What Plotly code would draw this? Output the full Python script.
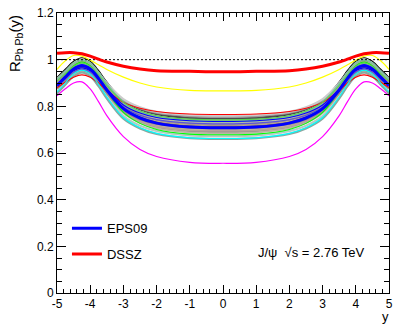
import plotly.graph_objects as go

# Rapidity grid |y| (curves are symmetric in y for Pb-Pb)
RAP = [0, 1, 2, 2.5, 3, 3.5, 3.75, 4, 4.25, 4.5, 4.75, 5]

# Central predictions
EPS09 = [0.708, 0.711, 0.728, 0.750, 0.790, 0.870, 0.920, 0.960, 0.975, 0.960, 0.925, 0.890]
DSSZ = [0.948, 0.950, 0.953, 0.960, 0.972, 0.990, 1.002, 1.015, 1.025, 1.030, 1.030, 1.027]

# EPS09 error sets (ROOT colour index -> values on RAP)
SET_COLOURS = {
    1: "#000000", 2: "#ff0000", 3: "#00ff00", 4: "#0000ff", 5: "#ffff00", 6: "#ff00ff",
    7: "#00ffff", 8: "#59d454", 9: "#5954d8", 11: "#c0b6ac", 12: "#4c4c4c", 13: "#666666",
    14: "#7f7f7f", 15: "#999999", 16: "#b2b2b2", 17: "#cccccc", 18: "#e5e5e5",
    20: "#ccc6aa", 21: "#ccc6aa", 22: "#c1bfa8", 23: "#bab5a3", 24: "#b2a596",
    25: "#b7a39b", 26: "#ad998c", 27: "#9b8e82", 28: "#876656", 29: "#afcec6",
    30: "#84c1a3", 31: "#89a8a0",
}
SET_1 = [0.745, 0.748, 0.765, 0.786, 0.826, 0.905, 0.954, 0.993, 1.008, 0.993, 0.959, 0.924]
SET_2 = [0.765, 0.767, 0.778, 0.792, 0.817, 0.868, 0.900, 0.925, 0.935, 0.925, 0.903, 0.881]
SET_3 = [0.678, 0.681, 0.701, 0.727, 0.774, 0.867, 0.926, 0.973, 0.990, 0.973, 0.932, 0.891]
SET_4 = [0.735, 0.738, 0.752, 0.771, 0.806, 0.875, 0.918, 0.952, 0.965, 0.952, 0.922, 0.892]
SET_5 = [0.866, 0.868, 0.883, 0.900, 0.925, 0.958, 0.978, 0.998, 1.015, 1.018, 0.995, 0.958]
SET_6 = [0.556, 0.560, 0.585, 0.615, 0.670, 0.760, 0.820, 0.875, 0.905, 0.900, 0.875, 0.845]
SET_7 = [0.662, 0.665, 0.684, 0.708, 0.752, 0.840, 0.895, 0.939, 0.955, 0.939, 0.900, 0.862]
SET_8 = [0.742, 0.745, 0.760, 0.780, 0.817, 0.889, 0.935, 0.971, 0.985, 0.971, 0.940, 0.908]
SET_9 = [0.725, 0.728, 0.743, 0.762, 0.797, 0.868, 0.912, 0.947, 0.960, 0.947, 0.916, 0.885]
SET_11 = [0.700, 0.703, 0.720, 0.742, 0.783, 0.864, 0.914, 0.955, 0.970, 0.955, 0.920, 0.884]
SET_12 = [0.748, 0.751, 0.767, 0.787, 0.824, 0.898, 0.944, 0.981, 0.995, 0.981, 0.949, 0.916]
SET_13 = [0.718, 0.721, 0.738, 0.759, 0.798, 0.877, 0.926, 0.965, 0.980, 0.965, 0.931, 0.897]
SET_14 = [0.690, 0.693, 0.711, 0.734, 0.776, 0.860, 0.912, 0.954, 0.970, 0.954, 0.918, 0.881]
SET_15 = [0.755, 0.758, 0.772, 0.791, 0.826, 0.895, 0.938, 0.972, 0.985, 0.972, 0.942, 0.912]
SET_16 = [0.670, 0.673, 0.691, 0.714, 0.756, 0.840, 0.892, 0.934, 0.950, 0.934, 0.898, 0.861]
SET_17 = [0.760, 0.763, 0.777, 0.796, 0.831, 0.900, 0.943, 0.977, 0.990, 0.977, 0.947, 0.917]
SET_18 = [0.665, 0.668, 0.687, 0.711, 0.756, 0.844, 0.899, 0.943, 0.960, 0.943, 0.905, 0.866]
SET_20 = [0.715, 0.718, 0.735, 0.756, 0.795, 0.873, 0.921, 0.960, 0.975, 0.960, 0.926, 0.892]
SET_21 = [0.700, 0.703, 0.721, 0.744, 0.786, 0.870, 0.922, 0.964, 0.980, 0.964, 0.928, 0.891]
SET_22 = [0.730, 0.733, 0.749, 0.770, 0.808, 0.885, 0.932, 0.971, 0.985, 0.971, 0.937, 0.904]
SET_23 = [0.685, 0.688, 0.706, 0.729, 0.771, 0.855, 0.907, 0.949, 0.965, 0.949, 0.913, 0.876]
SET_24 = [0.740, 0.743, 0.758, 0.777, 0.812, 0.883, 0.927, 0.962, 0.975, 0.962, 0.931, 0.900]
SET_25 = [0.695, 0.698, 0.715, 0.737, 0.776, 0.856, 0.905, 0.945, 0.960, 0.945, 0.910, 0.876]
SET_26 = [0.722, 0.725, 0.742, 0.764, 0.804, 0.885, 0.935, 0.975, 0.990, 0.975, 0.940, 0.905]
SET_27 = [0.705, 0.708, 0.724, 0.744, 0.782, 0.857, 0.904, 0.941, 0.955, 0.941, 0.908, 0.876]
SET_28 = [0.712, 0.715, 0.731, 0.753, 0.791, 0.869, 0.917, 0.956, 0.970, 0.956, 0.922, 0.888]
SET_29 = [0.675, 0.678, 0.695, 0.717, 0.758, 0.839, 0.889, 0.930, 0.945, 0.930, 0.895, 0.859]
SET_30 = [0.735, 0.738, 0.755, 0.777, 0.816, 0.896, 0.945, 0.985, 1.000, 0.985, 0.950, 0.916]
SET_31 = [0.660, 0.663, 0.681, 0.705, 0.747, 0.833, 0.886, 0.929, 0.945, 0.929, 0.892, 0.854]

# drawing order: black first, grey/pastel sets next, saturated sets on top
ERROR_SETS = {
    1: SET_1,
    11: SET_11, 12: SET_12, 13: SET_13, 14: SET_14, 15: SET_15, 16: SET_16,
    17: SET_17, 18: SET_18, 20: SET_20, 21: SET_21, 22: SET_22, 23: SET_23, 24: SET_24,
    25: SET_25, 26: SET_26, 27: SET_27, 28: SET_28, 29: SET_29, 30: SET_30, 31: SET_31,
    2: SET_2, 3: SET_3, 4: SET_4, 7: SET_7, 8: SET_8, 9: SET_9, 5: SET_5, 6: SET_6,
}

X_TICKS = [-5, -4, -3, -2, -1, 0, 1, 2, 3, 4, 5]
X_TICK_TEXT = ["-5", "-4", "-3", "-2", "-1", "0", "1", "2", "3", "4", "5"]
Y_TICKS = [0, 0.2, 0.4, 0.6, 0.8, 1.0, 1.2]
Y_TICK_TEXT = ["0", "0.2", "0.4", "0.6", "0.8", "1", "1.2"]


def mirror(vals):
    """Extend a curve given on |y| to the full rapidity range."""
    xs = [-r for r in reversed(RAP[1:])] + RAP
    ys = list(reversed(vals[1:])) + list(vals)
    return xs, ys


FONT = "Liberation Sans, Arial, Helvetica, sans-serif"
fig = go.Figure()

for idx, vals in ERROR_SETS.items():
    xs, ys = mirror(vals)
    width = 1.2 if idx in (5, 6) else (1.1 if idx < 10 else 2.0)
    fig.add_trace(go.Scatter(
        x=xs, y=ys, mode="lines", showlegend=False, hoverinfo="skip",
        line=dict(color=SET_COLOURS[idx], width=width, shape="spline", smoothing=1.0),
    ))

# unity reference line
fig.add_trace(go.Scatter(
    x=[-5, 5], y=[1, 1], mode="lines", showlegend=False, hoverinfo="skip",
    line=dict(color="black", width=1, dash="2px,2px"),
))

xs, ys = mirror(EPS09)
fig.add_trace(go.Scatter(
    x=xs, y=ys, mode="lines", name="EPS09", legendgroup="a",
    line=dict(color="#0000ff", width=3, shape="spline", smoothing=1.0),
))
xs, ys = mirror(DSSZ)
fig.add_trace(go.Scatter(
    x=xs, y=ys, mode="lines", name="DSSZ", legendgroup="b",
    line=dict(color="#ff0000", width=3, shape="spline", smoothing=1.0),
))

axis_common = dict(
    showgrid=False, zeroline=False, showline=True, linecolor="black", linewidth=1,
    mirror="allticks", ticks="inside", tickcolor="black", tickwidth=1,
    ticklabeloverflow="allow",
    tickfont=dict(family=FONT, size=12, color="black"),
)

fig.update_xaxes(
    range=[-5, 5], tickvals=X_TICKS, ticktext=X_TICK_TEXT, ticklen=8,
    minor=dict(ticks="inside", dtick=0.2, ticklen=4, tickcolor="black"),
    **axis_common,
)
fig.update_yaxes(
    range=[0, 1.2], tickvals=Y_TICKS, ticktext=Y_TICK_TEXT, ticklen=9,
    minor=dict(ticks="inside", dtick=0.05, ticklen=5, tickcolor="black"),
    **axis_common,
)

fig.add_annotation(
    text="R<sub>Pb Pb</sub>(y)", xref="paper", yref="paper", x=-0.125, y=1.0,
    xanchor="center", yanchor="top", textangle=-90, showarrow=False,
    font=dict(family=FONT, size=15, color="black"),
)
fig.add_annotation(
    text="y", xref="paper", yref="paper", x=0.99, y=-0.085,
    xanchor="center", yanchor="middle", showarrow=False,
    font=dict(family=FONT, size=13, color="black"),
)
fig.add_annotation(
    text="J/ψ  √s = 2.76 TeV", xref="paper", yref="paper", x=0.93, y=0.145,
    xanchor="right", yanchor="middle", showarrow=False,
    font=dict(family=FONT, size=13, color="black"),
)

fig.update_layout(
    width=396, height=326,
    margin=dict(l=57, r=3, t=13, b=33),
    paper_bgcolor="white", plot_bgcolor="white",
    showlegend=True,
    legend=dict(
        x=0.03, y=0.285, xanchor="left", yanchor="top",
        bgcolor="rgba(0,0,0,0)", borderwidth=0, itemwidth=30,
        tracegroupgap=6, font=dict(family=FONT, size=13, color="black"),
    ),
)

fig.write_html("out.html")
